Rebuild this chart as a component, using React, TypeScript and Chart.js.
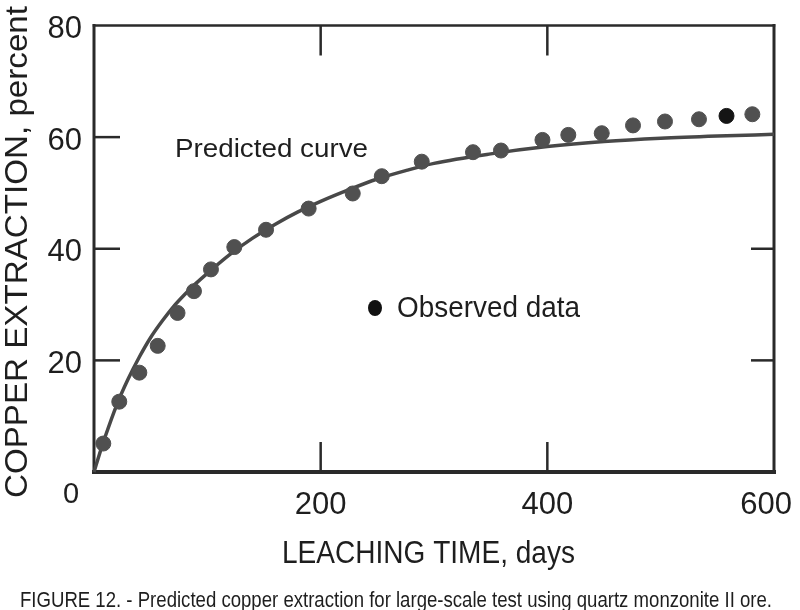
import React, { useEffect, useRef } from "react";
import { Chart, registerables } from "chart.js";

Chart.register(...registerables);

// Observed data (days, percent)
const observedDays = [8.2, 22.3, 40.0, 56.2, 73.7, 88.2, 103.2, 123.8, 151.8, 189.4, 228.3, 253.9, 289.2, 334.4, 359.1, 395.7, 418.5, 448.0, 475.6, 503.8, 533.8, 558.1, 580.9];
const observedPct = [5.1, 12.6, 17.8, 22.6, 28.5, 32.4, 36.3, 40.3, 43.4, 47.2, 49.9, 53.0, 55.6, 57.3, 57.6, 59.5, 60.4, 60.7, 62.1, 62.8, 63.2, 63.8, 64.1];

// Predicted curve
const curveDays = [0, 5, 10, 20, 30, 40, 50, 60, 70, 80, 90, 100, 120, 140, 160, 180, 200, 225, 250, 275, 300, 350, 400, 450, 500, 550, 600];
const curvePct = [0, 3.3, 6.4, 12.0, 16.6, 20.6, 24.1, 27.0, 29.6, 31.8, 33.8, 35.6, 39.0, 41.9, 44.4, 46.6, 48.5, 50.6, 52.5, 54.0, 55.3, 57.0, 58.3, 59.2, 59.8, 60.2, 60.5];

const xTickLabels = ["0", "200", "400", "600"];
const xTickValues = [0, 200, 400, 600];
const yTickLabels = ["0", "20", "40", "60", "80"];
const yTickValues = [0, 20, 40, 60, 80];

const xTitle = "LEACHING TIME, days";
const yTitle = "COPPER EXTRACTION, percent";
const curveLabel = "Predicted curve";
const dataLabel = "Observed data";
const caption = "FIGURE 12. - Predicted copper extraction for large-scale test using quartz monzonite II ore.";

const FONT = '"Liberation Sans", Arial, sans-serif';
const INK = "#1e1e1e";

function fitText(ctx: CanvasRenderingContext2D, text: string, x: number, y: number, width: number, size: number) {
  ctx.save();
  ctx.font = `${size}px ${FONT}`;
  ctx.textAlign = "left";
  ctx.textBaseline = "alphabetic";
  const w = ctx.measureText(text).width;
  ctx.translate(x, y);
  ctx.scale(width / w, 1);
  ctx.fillText(text, 0, 0);
  ctx.restore();
}

const framePlugin = {
  id: "framePlugin",
  beforeDatasetsDraw(chart: any) {
    const ctx: CanvasRenderingContext2D = chart.ctx;
    const { left, right, top, bottom } = chart.chartArea;
    const xs = chart.scales.x;
    const ys = chart.scales.y;
    ctx.save();
    ctx.strokeStyle = "#2a2a2a";
    ctx.lineCap = "square";
    // frame
    ctx.lineWidth = 2.5;
    ctx.beginPath(); ctx.moveTo(left, top); ctx.lineTo(right, top); ctx.stroke();
    ctx.lineWidth = 3;
    ctx.beginPath(); ctx.moveTo(left, top); ctx.lineTo(left, bottom); ctx.stroke();
    ctx.beginPath(); ctx.moveTo(right, top); ctx.lineTo(right, bottom); ctx.stroke();
    ctx.lineWidth = 4;
    ctx.beginPath(); ctx.moveTo(left, bottom); ctx.lineTo(right, bottom); ctx.stroke();
    // inner ticks
    ctx.lineWidth = 2.5;
    ctx.lineCap = "butt";
    [200, 400].forEach((v) => {
      const px = xs.getPixelForValue(v);
      ctx.beginPath(); ctx.moveTo(px, top); ctx.lineTo(px, top + 30); ctx.stroke();
      ctx.beginPath(); ctx.moveTo(px, bottom); ctx.lineTo(px, bottom - 30); ctx.stroke();
    });
    [20, 40, 60].forEach((v) => {
      const py = ys.getPixelForValue(v);
      ctx.beginPath(); ctx.moveTo(left, py); ctx.lineTo(left + 26, py); ctx.stroke();
    });
    [20, 40].forEach((v) => {
      const py = ys.getPixelForValue(v);
      ctx.beginPath(); ctx.moveTo(right, py); ctx.lineTo(right - 23, py); ctx.stroke();
    });
    ctx.restore();
  },
  afterDraw(chart: any) {
    const ctx: CanvasRenderingContext2D = chart.ctx;
    const { left, right, top, bottom } = chart.chartArea;
    const xs = chart.scales.x;
    const ys = chart.scales.y;
    ctx.save();
    ctx.fillStyle = INK;
    ctx.font = `31px ${FONT}`;
    ctx.textBaseline = "alphabetic";
    // y tick labels
    ctx.textAlign = "right";
    yTickValues.forEach((v, i) => {
      if (v === 0) return;
      const py = ys.getPixelForValue(v);
      ctx.fillText(yTickLabels[i], left - 12, py + 12.5);
    });
    // x tick labels
    ctx.textAlign = "center";
    xTickValues.forEach((v, i) => {
      if (v === 0) return;
      let px = xs.getPixelForValue(v);
      const w = ctx.measureText(xTickLabels[i]).width;
      px = Math.min(px, chart.width - 8 - w / 2);
      ctx.fillText(xTickLabels[i], px, bottom + 42);
    });
    // shared zero at the corner
    ctx.font = `29px ${FONT}`;
    ctx.fillText(xTickLabels[0], left - 23, bottom + 31);
    // axis titles
    fitText(ctx, xTitle, 282, 563, 293, 31);
    ctx.save();
    ctx.translate(27, 498);
    ctx.rotate(-Math.PI / 2);
    fitText(ctx, yTitle, 0, 0, 492, 31);
    ctx.restore();
    // annotations
    fitText(ctx, curveLabel, 175, 157, 193, 26);
    ctx.beginPath();
    ctx.fillStyle = "#111";
    ctx.ellipse(375, 308, 7, 8, 0, 0, Math.PI * 2);
    ctx.fill();
    ctx.fillStyle = INK;
    fitText(ctx, dataLabel, 397, 317, 183, 30);
    // caption
    fitText(ctx, caption, 20, 606.5, 752, 22);
    ctx.restore();
  },
};

export default function App() {
  const ref = useRef<HTMLCanvasElement | null>(null);
  useEffect(() => {
    if (!ref.current) return;
    const pointColors = observedPct.map((_, i) => (i === 21 ? "#151515" : "#505050"));
    const chart = new Chart(ref.current, {
      type: "scatter",
      data: {
        datasets: [
          {
            label: curveLabel,
            data: curveDays.map((d, i) => ({ x: d, y: curvePct[i] })),
            showLine: true,
            borderColor: "#484848",
            borderWidth: 3.5,
            pointRadius: 0,
            cubicInterpolationMode: "monotone",
            fill: false,
            order: 2,
          },
          {
            label: dataLabel,
            data: observedDays.map((d, i) => ({ x: d, y: observedPct[i] })),
            showLine: false,
            pointRadius: 7.5,
            pointBackgroundColor: pointColors,
            pointBorderColor: pointColors,
            pointBorderWidth: 1,
            order: 1,
          },
        ],
      },
      options: {
        animation: false,
        responsive: false,
        devicePixelRatio: 1,
        layout: { padding: { left: 94, right: 26, top: 25.5, bottom: 138 } },
        plugins: { legend: { display: false }, tooltip: { enabled: false }, title: { display: false } },
        scales: {
          x: { type: "linear", min: 0, max: 600, display: false },
          y: { type: "linear", min: 0, max: 80, display: false },
        },
        clip: false as any,
      },
      plugins: [framePlugin],
    });
    return () => chart.destroy();
  }, []);
  return (
    <div style={{ position: "absolute", left: 0, top: 0, width: 800, height: 610, background: "#fff" }}>
      <canvas ref={ref} width={800} height={610} style={{ display: "block", width: 800, height: 610 }} />
    </div>
  );
}
